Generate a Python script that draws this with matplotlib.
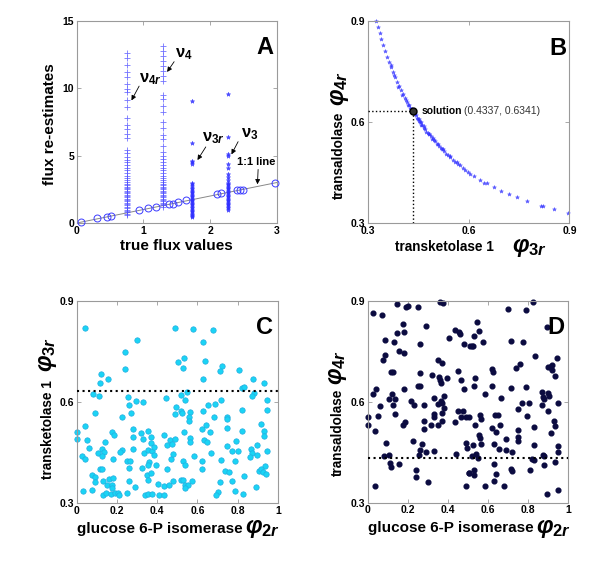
import matplotlib
matplotlib.use("Agg")
import matplotlib.pyplot as plt

plt.rcParams['font.family'] = ['Liberation Sans', 'DejaVu Sans']
plt.rcParams['font.weight'] = 'bold'
plt.rcParams['mathtext.fontset'] = 'custom'
plt.rcParams['mathtext.rm'] = 'Liberation Sans:bold'
plt.rcParams['mathtext.it'] = 'Liberation Sans:italic:bold'
plt.rcParams['mathtext.bf'] = 'Liberation Sans:bold'

# ---------------- Panel A data ----------------
circle_true = [0.06, 0.31, 0.45, 0.52, 0.94, 1.07, 1.19, 1.38, 1.44, 1.52, 1.64, 2.10, 2.17, 2.41, 2.45, 2.49, 2.98]
circle_est = [0.10, 0.34, 0.47, 0.49, 0.96, 1.08, 1.18, 1.38, 1.43, 1.53, 1.68, 2.12, 2.20, 2.42, 2.44, 2.47, 2.96]
line_x = [0, 3]
line_y = [0, 3]

v4r_true = 0.76
v4r_est = [12.6, 12.2, 11.7, 11.2, 10.8, 10.3, 9.9, 9.7, 9.1, 8.6, 7.8, 7.3, 7.0, 6.6, 6.3, 5.4, 5.2,
           4.9, 4.7, 4.5, 4.3, 4.1, 3.9, 3.7, 3.5, 3.35, 3.2, 3.05, 2.9, 2.8, 2.7, 2.6, 2.5, 2.4, 2.3,
           2.2, 2.1, 2.0, 1.9, 1.8, 1.7, 1.6, 1.5, 1.4, 1.3, 1.2, 1.1, 1.0, 0.9, 0.8, 0.7, 0.6]
v4_true = 1.29
v4_est = [13.1, 12.75, 12.4, 12.0, 11.65, 11.3, 10.9, 10.5, 9.5, 9.2, 8.65, 8.2, 7.5, 7.05, 6.55, 6.2,
          5.7, 5.3, 5.0, 4.75, 4.5, 4.3, 4.1, 3.9, 3.7, 3.5, 3.35, 3.2, 3.05, 2.9, 2.8, 2.7, 2.6, 2.5,
          2.4, 2.3, 2.2, 2.1, 2.0, 1.9, 1.8, 1.7, 1.6, 1.5, 1.4, 1.3, 1.2]
v3r_true = 1.73
v3r_est = [9.05, 5.9, 4.6, 4.5, 4.4, 3.0, 2.9, 2.75, 2.6, 2.5, 2.4, 2.3, 2.2, 2.1, 2.0, 1.9, 1.8, 1.7,
           1.6, 1.5, 1.4, 1.3, 1.2, 1.1, 1.0, 0.9, 0.8, 0.7, 0.6, 0.5, 0.45]
v3_true = 2.27
v3_est = [9.6, 6.4, 5.1, 5.0, 4.4, 4.1, 3.6, 3.4, 3.2, 3.0, 2.9, 2.8, 2.7, 2.6, 2.5, 2.4, 2.3, 2.2,
          2.1, 2.0, 1.9, 1.8, 1.7, 1.6, 1.5, 1.4, 1.3, 1.2, 1.1, 1.0]

# ---------------- Panel B data ----------------
b_x = [0.325, 0.330, 0.335, 0.340, 0.346, 0.352, 0.358, 0.364, 0.370, 0.376, 0.382, 0.388, 0.394,
       0.400, 0.406, 0.412, 0.418, 0.424, 0.430, 0.436, 0.442, 0.448, 0.455, 0.462, 0.470, 0.478,
       0.487, 0.496, 0.506, 0.517, 0.528, 0.540, 0.553, 0.567, 0.582, 0.598, 0.615, 0.634, 0.654,
       0.675, 0.697, 0.720, 0.745, 0.773, 0.815, 0.820, 0.853, 0.897,
       0.427, 0.439, 0.445, 0.451, 0.459, 0.466, 0.474, 0.483, 0.492, 0.501, 0.511, 0.522, 0.534,
       0.546, 0.560, 0.575, 0.590, 0.368, 0.379, 0.391, 0.403, 0.415, 0.421, 0.433, 0.441,
       0.452, 0.458, 0.468, 0.481, 0.494, 0.509, 0.525, 0.545, 0.565, 0.605, 0.645]
b_y = [0.900, 0.882, 0.865, 0.849, 0.830, 0.812, 0.795, 0.779, 0.764, 0.749, 0.735, 0.721, 0.708,
       0.696, 0.684, 0.672, 0.661, 0.650, 0.640, 0.630, 0.620, 0.611, 0.601, 0.591, 0.580, 0.569,
       0.558, 0.547, 0.536, 0.524, 0.513, 0.501, 0.489, 0.477, 0.465, 0.452, 0.440, 0.429, 0.418,
       0.407, 0.396, 0.386, 0.376, 0.365, 0.352, 0.350, 0.341, 0.330,
       0.643, 0.628, 0.613, 0.609, 0.593, 0.588, 0.572, 0.565, 0.550, 0.543, 0.529, 0.520, 0.505,
       0.497, 0.482, 0.472, 0.457, 0.771, 0.740, 0.706, 0.681, 0.665, 0.652, 0.638, 0.625,
       0.604, 0.600, 0.584, 0.566, 0.552, 0.536, 0.520, 0.499, 0.481, 0.447, 0.420]
sol_x = 0.4337
sol_y = 0.6341

# ---------------- Panel C data ----------------
c_x = [0.04, 0.49, 0.30, 0.24, 0.24, 0.504, 0.12, 0.157, 0.116, 0.083, 0.108, 0.257, 0.26, 0.293,
       0.331, 0.443, 0.494, 0.49, 0.091, 0.27, 0.225, 0.04, 0.0, 0.0, 0.05, 0.174, 0.187, 0.28,
       0.282, 0.318, 0.356, 0.368, 0.33, 0.371, 0.139, 0.061, 0.127, 0.106, 0.136, 0.123, 0.227,
       0.215, 0.282, 0.335, 0.353, 0.373, 0.383, 0.385, 0.436, 0.462, 0.449, 0.476, 0.49, 0.026,
       0.043, 0.18, 0.25, 0.267, 0.361, 0.353, 0.394, 0.467, 0.48, 0.116, 0.127, 0.26, 0.323,
       0.451, 0.078, 0.091, 0.093, 0.162, 0.18, 0.129, 0.149, 0.176, 0.177, 0.26, 0.292, 0.351,
       0.371, 0.355, 0.404, 0.434, 0.459, 0.477, 0.03, 0.076, 0.129, 0.146, 0.169, 0.192, 0.205,
       0.209, 0.25, 0.34, 0.356, 0.376, 0.41, 0.436,
       0.58, 0.68, 0.628, 0.532, 0.529, 0.638, 0.721, 0.713, 0.808, 0.628, 0.878, 0.931, 0.821,
       0.83, 0.882, 0.874, 0.519, 0.549, 0.539, 0.564, 0.559, 0.556, 0.519, 0.522, 0.628, 0.655,
       0.688, 0.718, 0.685, 0.749, 0.749, 0.824, 0.947, 0.947, 0.914, 0.621, 0.641, 0.661, 0.746,
       0.824, 0.932, 0.932, 0.534, 0.562, 0.564, 0.632, 0.648, 0.749, 0.794, 0.771, 0.804, 0.869,
       0.874, 0.899, 0.899, 0.864, 0.945, 0.667, 0.583, 0.526, 0.536, 0.621, 0.715, 0.787, 0.937,
       0.625, 0.737, 0.756, 0.834, 0.904, 0.917, 0.924, 0.942, 0.516, 0.526, 0.539, 0.552, 0.572,
       0.539, 0.711, 0.772, 0.891, 0.70, 0.691, 0.789, 0.826]
c_y = [0.82, 0.82, 0.786, 0.748, 0.70, 0.72, 0.684, 0.669, 0.656, 0.625, 0.62, 0.615, 0.593, 0.603,
       0.601, 0.613, 0.587, 0.566, 0.569, 0.569, 0.557, 0.528, 0.51, 0.49, 0.488, 0.51, 0.503, 0.521,
       0.496, 0.509, 0.514, 0.498, 0.49, 0.478, 0.482, 0.463, 0.46, 0.449, 0.451, 0.439, 0.458,
       0.452, 0.461, 0.449, 0.458, 0.455, 0.468, 0.443, 0.503, 0.488, 0.473, 0.475, 0.49, 0.439,
       0.431, 0.431, 0.424, 0.424, 0.421, 0.414, 0.412, 0.432, 0.446, 0.40, 0.40, 0.403, 0.404,
       0.40, 0.384, 0.377, 0.362, 0.372, 0.375, 0.366, 0.354, 0.354, 0.344, 0.367, 0.348, 0.384,
       0.389, 0.37, 0.358, 0.351, 0.355, 0.366, 0.337, 0.338, 0.324, 0.329, 0.326, 0.331, 0.331,
       0.323, 0.331, 0.323, 0.326, 0.328, 0.323, 0.325,
       0.817, 0.815, 0.778, 0.733, 0.701, 0.723, 0.708, 0.694, 0.696, 0.668, 0.67, 0.656, 0.641,
       0.644, 0.627, 0.619, 0.622, 0.629, 0.608, 0.572, 0.555, 0.545, 0.575, 0.568, 0.575, 0.592,
       0.594, 0.608, 0.555, 0.557, 0.549, 0.577, 0.608, 0.577, 0.535, 0.52, 0.531, 0.51, 0.523,
       0.515, 0.515, 0.50, 0.51, 0.495, 0.483, 0.488, 0.483, 0.471, 0.485, 0.456, 0.456, 0.461,
       0.449, 0.473, 0.444, 0.437, 0.456, 0.449, 0.439, 0.424, 0.414, 0.426, 0.428, 0.426, 0.411,
       0.40, 0.395, 0.393, 0.382, 0.396, 0.40, 0.393, 0.386, 0.37, 0.368, 0.354, 0.354, 0.366,
       0.344, 0.364, 0.366, 0.348, 0.334, 0.324, 0.336, 0.328]

# ---------------- Panel D data ----------------
d_x = [0.145, 0.19, 0.202, 0.249, 0.359, 0.375, 0.028, 0.073, 0.176, 0.148, 0.178, 0.291, 0.086,
       0.129, 0.158, 0.181, 0.259, 0.086, 0.078, 0.116, 0.126, 0.35, 0.369, 0.405, 0.435, 0.453,
       0.462, 0.478, 0.51, 0.259, 0.319, 0.355, 0.359, 0.365, 0.394, 0.449, 0.465, 0.48, 0.041,
       0.026, 0.178, 0.249, 0.262, 0.123, 0.106, 0.135, 0.126, 0.061, 0.138, 0.05, 0.0, 0.0, 0.038,
       0.173, 0.186, 0.214, 0.228, 0.282, 0.332, 0.352, 0.365, 0.372, 0.382, 0.379, 0.369, 0.33,
       0.33, 0.369, 0.282, 0.279, 0.316, 0.352, 0.45, 0.475, 0.463, 0.488, 0.505, 0.435, 0.09,
       0.226, 0.269, 0.261, 0.256, 0.292, 0.332, 0.442, 0.492, 0.495, 0.083, 0.106, 0.111, 0.118,
       0.156, 0.241, 0.241, 0.30, 0.505, 0.038, 0.49,
       0.542, 0.555, 0.531, 0.518, 0.525, 0.576, 0.699, 0.789, 0.826, 0.894, 0.713, 0.776, 0.834,
       0.944, 0.738, 0.758, 0.621, 0.625, 0.897, 0.91, 0.92, 0.92, 0.935, 0.535, 0.53, 0.621,
       0.715, 0.789, 0.585, 0.666, 0.867, 0.872, 0.897, 0.904, 0.879, 0.869, 0.771, 0.804, 0.751,
       0.90, 0.946, 0.56, 0.565, 0.634, 0.647, 0.66, 0.533, 0.796, 0.93, 0.934, 0.621, 0.641,
       0.751, 0.828, 0.914, 0.555, 0.56, 0.565, 0.751, 0.751, 0.689, 0.522, 0.631, 0.655, 0.689,
       0.717, 0.828, 0.949, 0.949, 0.875, 0.88, 0.518, 0.537, 0.548, 0.817, 0.829, 0.934, 0.879,
       0.628, 0.507, 0.527, 0.53, 0.638, 0.715, 0.721, 0.809, 0.628, 0.582, 0.681, 0.894, 0.949]
d_y = [0.892, 0.882, 0.886, 0.882, 0.898, 0.894, 0.864, 0.857, 0.833, 0.806, 0.807, 0.825, 0.783,
       0.777, 0.75, 0.745, 0.771, 0.738, 0.724, 0.689, 0.689, 0.724, 0.717, 0.79, 0.813, 0.807,
       0.802, 0.771, 0.765, 0.685, 0.681, 0.675, 0.665, 0.655, 0.671, 0.691, 0.664, 0.637, 0.638,
       0.623, 0.638, 0.648, 0.648, 0.623, 0.609, 0.609, 0.591, 0.589, 0.564, 0.558, 0.554, 0.53,
       0.513, 0.53, 0.539, 0.604, 0.591, 0.591, 0.611, 0.593, 0.604, 0.598, 0.617, 0.582, 0.567,
       0.565, 0.555, 0.544, 0.544, 0.52, 0.532, 0.532, 0.572, 0.572, 0.556, 0.556, 0.556, 0.539,
       0.478, 0.485, 0.476, 0.458, 0.443, 0.451, 0.453, 0.446, 0.478, 0.463, 0.438, 0.441, 0.419,
       0.405, 0.414, 0.397, 0.376, 0.361, 0.388, 0.35, 0.35,
       0.837, 0.812, 0.797, 0.765, 0.765, 0.778, 0.876, 0.873, 0.897, 0.823, 0.781, 0.778, 0.737,
       0.729, 0.701, 0.713, 0.697, 0.689, 0.705, 0.703, 0.709, 0.696, 0.676, 0.671, 0.646, 0.646,
       0.641, 0.643, 0.623, 0.611, 0.629, 0.614, 0.627, 0.616, 0.608, 0.591, 0.596, 0.596, 0.58,
       0.574, 0.598, 0.56, 0.55, 0.56, 0.56, 0.532, 0.532, 0.559, 0.542, 0.529, 0.522, 0.509,
       0.517, 0.526, 0.506, 0.50, 0.492, 0.474, 0.494, 0.484, 0.489, 0.472, 0.474, 0.461, 0.458,
       0.451, 0.472, 0.469, 0.451, 0.443, 0.438, 0.438, 0.446, 0.434, 0.431, 0.428, 0.421, 0.413,
       0.414, 0.388, 0.396, 0.381, 0.385, 0.40, 0.393, 0.398, 0.365, 0.35, 0.35, 0.326, 0.339]

# ---------------- Figure ----------------
fig = plt.figure(figsize=(6.0, 5.64), dpi=100)
frame_c = '#9a9a9a'
tick_fs = 7.5
lab_fs = 11
enz_fs = 9.8
phi_fs = 17
letter_fs = 17


def style(ax):
    for s in ax.spines.values():
        s.set_color(frame_c)
        s.set_linewidth(0.8)
    ax.tick_params(direction='in', length=3, width=0.6, color=frame_c,
                   top=True, right=True, labelsize=tick_fs, pad=2)
    for t in ax.get_xticklabels() + ax.get_yticklabels():
        t.set_fontweight('bold')


# Panel A
axA = fig.add_axes([0.128, 0.6046, 0.3333, 0.3587])
axA.plot(line_x, line_y, color='#888888', lw=0.7, zorder=1)
axA.plot(circle_true, circle_est, 'o', mfc='none', mec='#3c3cff', ms=5, mew=0.7, zorder=3, clip_on=False)
axA.plot([v4r_true] * len(v4r_est), v4r_est, '+', color='#5050ff', ms=4, mew=0.6, alpha=0.8)
axA.plot([v4_true] * len(v4_est), v4_est, '+', color='#5050ff', ms=4, mew=0.6, alpha=0.8)
axA.plot([v3r_true] * len(v3r_est), v3r_est, '*', color='#3030ff', ms=3.2, mew=0.4, alpha=0.85)
axA.plot([v3_true] * len(v3_est), v3_est, '*', color='#3030ff', ms=3.2, mew=0.4, alpha=0.85)
axA.set_xlim(0, 3)
axA.set_ylim(0, 15)
axA.set_xticks([0, 1, 2, 3])
axA.set_yticks([0, 5, 10, 15])
style(axA)
axA.text(0.5, -0.112, 'true flux values', transform=axA.transAxes, ha='center', va='center',
         fontsize=lab_fs, fontweight='bold')
axA.text(-0.133, 0.49, 'flux re-estimates', transform=axA.transAxes, ha='center', va='center',
         rotation=90, fontsize=lab_fs, fontweight='bold')
axA.text(0.985, 0.925, 'A', transform=axA.transAxes, ha='right', va='top',
         fontsize=letter_fs, fontweight='bold')
arrow = dict(arrowstyle='-|>', color='black', lw=0.6, mutation_scale=7, shrinkA=0, shrinkB=0)
ann = [(r'$\mathrm{\nu}_{\mathrm{4}r}$', (0.93, 10.4), (0.935, 10.15), (0.82, 9.09)),
       (r'$\mathrm{\nu}_{\mathrm{4}}$', (1.48, 12.3), (1.46, 11.96), (1.355, 11.2)),
       (r'$\mathrm{\nu}_{\mathrm{3}r}$', (1.885, 6.08), (1.935, 5.64), (1.81, 4.67)),
       (r'$\mathrm{\nu}_{\mathrm{3}}$', (2.46, 6.38), (2.42, 6.03), (2.32, 5.09))]
for lab, tpos, tail, head in ann:
    axA.text(tpos[0], tpos[1], lab, fontsize=12, ha='left', va='baseline')
    axA.annotate('', xy=head, xytext=tail, arrowprops=arrow)
axA.text(2.41, 4.3, '1:1 line', fontsize=8, fontweight='bold', ha='left', va='baseline')
axA.annotate('', xy=(2.71, 2.87), xytext=(2.72, 3.97), arrowprops=arrow)

# Panel B
axB = fig.add_axes([0.613, 0.6046, 0.336, 0.3574])
axB.plot(b_x, b_y, '*', color='#3434ff', ms=3.0, mew=0.3, alpha=0.8, zorder=2, clip_on=False)
axB.plot([0.3, sol_x], [sol_y, sol_y], color='black', lw=1.0, ls=':', zorder=3)
axB.plot([sol_x, sol_x], [0.3, sol_y], color='black', lw=1.0, ls=':', zorder=3)
axB.plot([sol_x], [sol_y], 'o', color='#333333', mec='black', ms=5, zorder=4)
axB.set_xlim(0.3, 0.9)
axB.set_ylim(0.3, 0.9)
axB.set_xticks([0.3, 0.6, 0.9])
axB.set_yticks([0.3, 0.6, 0.9])
style(axB)
axB.text(0.459, sol_y, 'solution', fontsize=7.5, fontweight='bold', ha='left', va='center')
axB.text(0.587, sol_y, '(0.4337, 0.6341)', fontsize=7.5, fontweight='normal', color='#333333',
         ha='left', va='center')
axB.text(0.381, -0.12, 'transketolase 1', transform=axB.transAxes, ha='center', va='center',
         fontsize=enz_fs, fontweight='bold')
axB.text(0.80, -0.12, r'$\varphi_{\mathrm{3}r}$', transform=axB.transAxes, ha='center', va='center',
         fontsize=phi_fs)
axB.text(-0.142, 0.335, 'transaldolase', transform=axB.transAxes, ha='center', va='center',
         rotation=90, fontsize=enz_fs, fontweight='bold')
axB.text(-0.142, 0.665, r'$\varphi_{\mathrm{4}r}$', transform=axB.transAxes, ha='center', va='center',
         rotation=90, fontsize=phi_fs)
axB.text(0.984, 0.925, 'B', transform=axB.transAxes, ha='right', va='top',
         fontsize=letter_fs, fontweight='bold')

# Panel C
axC = fig.add_axes([0.128, 0.108, 0.335, 0.3576])
axC.plot(c_x, c_y, 'o', color='#1ad4f5', mec='#22aee0', mew=0.5, ms=3.9, zorder=2, clip_on=False)
axC.axhline(sol_y, color='black', lw=1.5, ls=':', zorder=3)
axC.set_xlim(0, 1)
axC.set_ylim(0.3, 0.9)
axC.set_xticks([0, 0.2, 0.4, 0.6, 0.8, 1])
axC.set_xticklabels(['0', '0.2', '0.4', '0.6', '0.8', '1'])
axC.set_yticks([0.3, 0.6, 0.9])
style(axC)
axC.text(0.415, -0.127, 'glucose 6-P isomerase', transform=axC.transAxes, ha='center', va='center',
         fontsize=lab_fs, fontweight='bold')
axC.text(0.925, -0.127, r'$\varphi_{\mathrm{2}r}$', transform=axC.transAxes, ha='center', va='center',
         fontsize=phi_fs)
axC.text(-0.145, 0.367, 'transketolase 1', transform=axC.transAxes, ha='center', va='center',
         rotation=90, fontsize=enz_fs, fontweight='bold')
axC.text(-0.145, 0.735, r'$\varphi_{\mathrm{3}r}$', transform=axC.transAxes, ha='center', va='center',
         rotation=90, fontsize=phi_fs)
axC.text(0.977, 0.927, 'C', transform=axC.transAxes, ha='right', va='top',
         fontsize=letter_fs, fontweight='bold')

# Panel D
axD = fig.add_axes([0.613, 0.1087, 0.3343, 0.3576])
axD.plot(d_x, d_y, 'o', color='#0b0b40', mec='#0b0b40', ms=3.4, zorder=2, clip_on=False)
axD.axhline(sol_x, color='black', lw=1.5, ls=':', zorder=3)
axD.set_xlim(0, 1)
axD.set_ylim(0.3, 0.9)
axD.set_xticks([0, 0.2, 0.4, 0.6, 0.8, 1])
axD.set_xticklabels(['0', '0.2', '0.4', '0.6', '0.8', '1'])
axD.set_yticks([0.3, 0.6, 0.9])
style(axD)
axD.text(0.413, -0.127, 'glucose 6-P isomerase', transform=axD.transAxes, ha='center', va='center',
         fontsize=lab_fs, fontweight='bold')
axD.text(0.925, -0.127, r'$\varphi_{\mathrm{2}r}$', transform=axD.transAxes, ha='center', va='center',
         fontsize=phi_fs)
axD.text(-0.15, 0.347, 'transaldolase', transform=axD.transAxes, ha='center', va='center',
         rotation=90, fontsize=enz_fs, fontweight='bold')
axD.text(-0.15, 0.67, r'$\varphi_{\mathrm{4}r}$', transform=axD.transAxes, ha='center', va='center',
         rotation=90, fontsize=phi_fs)
axD.text(0.979, 0.924, 'D', transform=axD.transAxes, ha='right', va='top',
         fontsize=letter_fs, fontweight='bold')

fig.savefig('out.png', dpi=100)
